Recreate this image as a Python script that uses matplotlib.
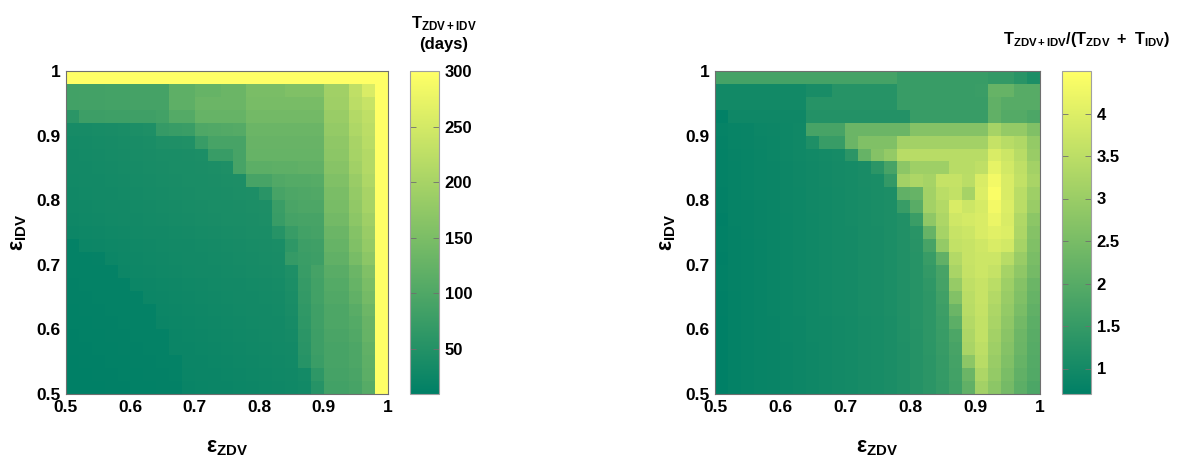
import numpy as np
import matplotlib
matplotlib.use("Agg")
import matplotlib.pyplot as plt
from matplotlib.ticker import FuncFormatter

plt.rcParams["font.family"] = ["Liberation Sans", "DejaVu Sans"]
plt.rcParams["font.weight"] = "bold"
plt.rcParams["mathtext.fontset"] = "custom"
plt.rcParams["mathtext.rm"] = "Liberation Sans:bold"
plt.rcParams["mathtext.it"] = "Liberation Sans:bold"
plt.rcParams["mathtext.bf"] = "Liberation Sans:bold"
plt.rcParams["mathtext.default"] = "regular"

# grid cell edges for drug efficacies (ZDV on x, IDV on y)
eps_edges = [0.50, 0.52, 0.54, 0.56, 0.58, 0.60, 0.62, 0.64, 0.66, 0.68, 0.70,
             0.72, 0.74, 0.76, 0.78, 0.80, 0.82, 0.84, 0.86, 0.88, 0.90, 0.92,
             0.94, 0.96, 0.98, 1.00]
axis_ticks = [0.5, 0.6, 0.7, 0.8, 0.9, 1.0]

# time to resistance under combination therapy (days), rows from eps_IDV=0.98 down to 0.50
t_combo_rows = [
    [300] * 25,
    [85, 86, 86, 87, 87, 88, 88, 88, 117, 117, 126, 126, 131, 131, 149, 149, 149, 155, 155, 155, 193, 193, 227, 256, 300],
    [85, 86, 86, 87, 87, 88, 88, 88, 117, 117, 131, 131, 131, 131, 146, 146, 146, 146, 146, 146, 190, 190, 222, 236, 300],
    [59, 79, 79, 80, 80, 81, 82, 85, 105, 105, 126, 126, 126, 126, 140, 140, 140, 140, 140, 140, 184, 184, 213, 227, 300],
    [36, 36, 37, 38, 39, 42, 44, 70, 73, 76, 100, 102, 104, 106, 131, 131, 131, 131, 131, 131, 178, 178, 207, 222, 300],
    [33, 34, 35, 36, 37, 38, 39, 44, 45, 46, 73, 91, 91, 91, 128, 128, 128, 128, 128, 128, 172, 172, 201, 219, 300],
    [32, 33, 34, 35, 36, 37, 38, 39, 40, 41, 42, 73, 73, 91, 126, 126, 126, 126, 126, 126, 169, 169, 198, 213, 300],
    [31, 32, 33, 34, 35, 36, 37, 38, 39, 40, 41, 42, 44, 91, 114, 114, 117, 117, 120, 120, 163, 163, 193, 213, 300],
    [30, 31, 32, 33, 34, 35, 36, 37, 38, 39, 40, 41, 42, 43, 91, 91, 102, 105, 105, 108, 155, 155, 184, 207, 300],
    [29, 30, 31, 32, 33, 34, 35, 36, 37, 38, 39, 40, 41, 42, 43, 56, 91, 97, 100, 102, 149, 149, 178, 201, 300],
    [28, 29, 30, 31, 32, 33, 34, 35, 36, 37, 38, 39, 40, 41, 42, 43, 76, 94, 97, 97, 146, 146, 175, 198, 300],
    [27, 28, 29, 30, 31, 32, 33, 34, 35, 36, 37, 38, 39, 40, 41, 42, 73, 88, 91, 91, 140, 140, 169, 190, 300],
    [25, 26, 27, 28, 29, 30, 31, 32, 33, 34, 35, 36, 37, 38, 39, 40, 53, 73, 85, 88, 131, 131, 160, 184, 300],
    [15, 24, 25, 26, 27, 28, 29, 30, 31, 32, 33, 34, 35, 36, 37, 38, 39, 62, 79, 82, 126, 126, 155, 178, 300],
    [15, 15, 16, 24, 26, 27, 28, 29, 30, 31, 32, 33, 34, 35, 36, 37, 38, 70, 76, 79, 120, 120, 146, 169, 300],
    [14, 14, 15, 15, 25, 26, 27, 28, 29, 30, 31, 32, 33, 34, 35, 36, 37, 44, 73, 88, 111, 111, 131, 155, 300],
    [13, 14, 14, 15, 15, 24, 25, 26, 27, 28, 29, 30, 31, 32, 33, 34, 35, 42, 70, 85, 105, 105, 126, 149, 300],
    [13, 13, 14, 14, 15, 15, 24, 25, 26, 27, 28, 29, 30, 31, 32, 33, 34, 40, 68, 85, 102, 102, 120, 143, 300],
    [12, 13, 13, 14, 14, 15, 15, 24, 25, 26, 27, 28, 29, 30, 31, 32, 33, 38, 65, 82, 97, 97, 111, 134, 300],
    [12, 12, 13, 13, 14, 14, 15, 23, 24, 25, 26, 27, 28, 29, 30, 31, 32, 36, 62, 82, 97, 97, 105, 128, 300],
    [11, 12, 12, 13, 13, 14, 14, 15, 23, 24, 25, 26, 27, 28, 29, 30, 31, 34, 59, 79, 94, 94, 102, 126, 300],
    [11, 11, 12, 12, 13, 13, 14, 14, 22, 23, 24, 25, 26, 27, 28, 29, 30, 32, 56, 79, 91, 91, 97, 120, 300],
    [10, 11, 11, 12, 12, 13, 13, 14, 14, 22, 23, 24, 25, 26, 27, 28, 29, 30, 53, 76, 91, 91, 97, 117, 300],
    [10, 10, 11, 11, 12, 12, 13, 13, 14, 21, 22, 23, 24, 25, 26, 27, 28, 29, 33, 62, 88, 88, 94, 114, 300],
    [9, 10, 10, 11, 11, 12, 12, 13, 13, 20, 21, 22, 23, 24, 25, 26, 27, 28, 30, 53, 85, 85, 91, 108, 300],
]

# ratio T_combo / (T_ZDV + T_IDV), same row order
ratio_rows = [
    [1.73, 1.73, 1.73, 1.73, 1.73, 1.73, 1.73, 1.73, 1.73, 1.73, 1.73, 1.73, 1.73, 1.73, 1.54, 1.54, 1.54, 1.54, 1.54, 1.54, 1.54, 1.46, 1.46, 1.31, 1.12],
    [0.97, 0.97, 0.97, 0.97, 0.97, 0.97, 0.97, 1.08, 1.08, 1.27, 1.27, 1.27, 1.27, 1.27, 1.54, 1.54, 1.54, 1.54, 1.54, 1.54, 1.57, 2.22, 2.22, 2.00, 2.00],
    [0.97, 0.97, 0.97, 0.97, 0.97, 0.97, 0.97, 1.27, 1.27, 1.27, 1.27, 1.27, 1.27, 1.27, 1.54, 1.54, 1.54, 1.54, 1.54, 1.54, 1.54, 2.14, 2.00, 2.00, 2.00],
    [0.74, 0.93, 0.93, 0.93, 0.93, 0.93, 0.93, 1.23, 1.23, 1.23, 1.23, 1.23, 1.23, 1.23, 1.23, 1.54, 1.54, 1.54, 1.54, 1.54, 1.54, 2.14, 1.95, 1.95, 1.84],
    [0.80, 0.82, 0.84, 0.88, 0.90, 0.92, 0.95, 1.76, 1.76, 1.76, 2.30, 2.30, 2.30, 2.30, 2.30, 2.68, 2.68, 2.68, 2.68, 2.68, 2.68, 3.17, 2.90, 2.90, 2.60],
    [0.78, 0.82, 0.84, 0.87, 0.89, 0.92, 0.95, 1.16, 1.54, 1.54, 2.30, 2.60, 2.60, 2.60, 3.13, 3.13, 3.13, 3.13, 3.13, 3.13, 3.13, 3.63, 3.44, 3.32, 2.90],
    [0.77, 0.81, 0.83, 0.86, 0.88, 0.91, 0.94, 0.97, 1.00, 1.03, 1.35, 2.22, 2.68, 2.90, 3.44, 3.44, 3.44, 3.44, 3.44, 3.44, 3.44, 3.93, 3.74, 3.44, 2.98],
    [0.76, 0.80, 0.82, 0.85, 0.87, 0.90, 0.93, 0.96, 0.99, 1.02, 1.04, 1.08, 1.35, 1.76, 2.79, 3.06, 3.06, 3.06, 3.44, 3.44, 3.55, 4.12, 3.82, 3.55, 3.13],
    [0.76, 0.80, 0.82, 0.85, 0.87, 0.90, 0.93, 0.96, 0.99, 1.02, 1.04, 1.08, 1.10, 1.46, 3.13, 3.28, 3.17, 3.63, 3.63, 3.47, 3.93, 4.31, 3.93, 3.59, 3.21],
    [0.75, 0.79, 0.82, 0.85, 0.87, 0.90, 0.92, 0.96, 0.98, 1.01, 1.03, 1.07, 1.09, 1.13, 2.14, 2.22, 3.13, 3.47, 3.59, 3.17, 3.97, 4.42, 3.93, 3.47, 3.06],
    [0.75, 0.79, 0.81, 0.84, 0.86, 0.90, 0.92, 0.96, 0.98, 1.01, 1.03, 1.07, 1.09, 1.13, 1.54, 2.03, 3.13, 3.36, 3.93, 3.74, 3.89, 4.31, 3.97, 3.47, 2.98],
    [0.72, 0.79, 0.81, 0.84, 0.86, 0.89, 0.92, 0.95, 0.98, 1.01, 1.03, 1.07, 1.09, 1.13, 1.20, 1.57, 2.83, 3.28, 3.78, 3.85, 3.93, 4.20, 3.93, 3.32, 2.79],
    [0.74, 0.78, 0.81, 0.84, 0.86, 0.89, 0.91, 0.95, 0.97, 1.00, 1.02, 1.06, 1.08, 1.12, 1.19, 1.31, 2.22, 3.17, 3.66, 3.74, 3.93, 4.04, 3.97, 3.28, 2.68],
    [0.74, 0.78, 0.80, 0.83, 0.85, 0.89, 0.91, 0.95, 0.97, 1.00, 1.02, 1.06, 1.08, 1.12, 1.19, 1.30, 1.76, 2.90, 3.59, 3.66, 3.78, 3.93, 3.82, 3.17, 2.60],
    [0.72, 0.78, 0.80, 0.83, 0.85, 0.89, 0.91, 0.95, 0.97, 1.00, 1.02, 1.06, 1.08, 1.12, 1.19, 1.27, 1.54, 2.14, 3.36, 3.66, 3.74, 3.74, 3.44, 2.98, 2.52],
    [0.73, 0.78, 0.80, 0.83, 0.85, 0.89, 0.91, 0.95, 0.97, 1.00, 1.02, 1.06, 1.08, 1.12, 1.19, 1.27, 1.46, 1.76, 3.21, 3.63, 3.74, 3.63, 3.17, 2.83, 2.45],
    [0.73, 0.78, 0.80, 0.83, 0.85, 0.89, 0.91, 0.95, 0.97, 1.00, 1.02, 1.06, 1.08, 1.12, 1.19, 1.27, 1.40, 1.73, 2.94, 3.55, 3.66, 3.47, 3.06, 2.68, 2.30],
    [0.72, 0.77, 0.80, 0.83, 0.85, 0.88, 0.91, 0.94, 0.97, 1.00, 1.02, 1.06, 1.08, 1.12, 1.19, 1.27, 1.38, 1.65, 2.64, 3.47, 3.66, 3.36, 2.98, 2.60, 2.22],
    [0.72, 0.77, 0.80, 0.83, 0.85, 0.88, 0.91, 0.94, 0.97, 1.00, 1.02, 1.06, 1.08, 1.12, 1.19, 1.27, 1.38, 1.61, 2.30, 3.44, 3.63, 3.28, 2.90, 2.52, 2.14],
    [0.71, 0.77, 0.79, 0.82, 0.84, 0.88, 0.90, 0.94, 0.96, 0.99, 1.01, 1.05, 1.07, 1.11, 1.18, 1.27, 1.38, 1.57, 2.07, 3.36, 3.59, 3.21, 2.83, 2.41, 2.07],
    [0.71, 0.77, 0.79, 0.82, 0.84, 0.88, 0.90, 0.94, 0.96, 0.99, 1.01, 1.05, 1.07, 1.11, 1.18, 1.26, 1.37, 1.54, 1.84, 3.28, 3.59, 3.13, 2.75, 2.33, 2.03],
    [0.71, 0.76, 0.79, 0.82, 0.84, 0.87, 0.90, 0.93, 0.96, 0.99, 1.01, 1.05, 1.07, 1.11, 1.17, 1.26, 1.36, 1.52, 1.76, 3.21, 3.51, 3.06, 2.68, 2.30, 1.99],
    [0.70, 0.76, 0.79, 0.82, 0.84, 0.87, 0.90, 0.93, 0.96, 0.99, 1.01, 1.05, 1.07, 1.11, 1.17, 1.25, 1.35, 1.50, 1.72, 2.79, 3.44, 2.98, 2.60, 2.22, 1.95],
    [0.70, 0.76, 0.79, 0.82, 0.84, 0.87, 0.90, 0.93, 0.96, 0.99, 1.01, 1.05, 1.07, 1.11, 1.17, 1.25, 1.35, 1.48, 1.68, 2.30, 3.28, 2.90, 2.52, 2.14, 1.92],
    [0.70, 0.76, 0.79, 0.82, 0.84, 0.87, 0.90, 0.93, 0.96, 0.99, 1.01, 1.05, 1.07, 1.11, 1.17, 1.25, 1.35, 1.46, 1.65, 2.14, 3.13, 2.79, 2.45, 2.07, 1.84],
]

t_combo = np.array(t_combo_rows[::-1], dtype=float)
ratio = np.array(ratio_rows[::-1], dtype=float)

W, H = 1188, 462
fig = plt.figure(figsize=(W / 100, H / 100), dpi=100)


def fx(px):
    return px / W


def fy(py):
    return 1 - py / H


bottom = fy(394)
height = (394 - 71) / H
frame_col = "#6f6f6f"

panels = [
    dict(data=t_combo, left=66, width=322, cb_left=410, vmin=9.4, vmax=300,
         cticks=[50, 100, 150, 200, 250, 300]),
    dict(data=ratio, left=715, width=325, cb_left=1062, vmin=0.70, vmax=4.5,
         cticks=[1, 1.5, 2, 2.5, 3, 3.5, 4]),
]

for p in panels:
    ax = fig.add_axes([fx(p["left"]), bottom, fx(p["width"]), height])
    mesh = ax.pcolormesh(eps_edges, eps_edges, p["data"], cmap="summer",
                         vmin=p["vmin"], vmax=p["vmax"], shading="flat")
    ax.set_xlim(0.5, 1.0)
    ax.set_ylim(0.5, 1.0)
    ax.set_xticks(axis_ticks)
    ax.set_yticks(axis_ticks)
    fmt = FuncFormatter(lambda v, pos: "%g" % round(v, 2))
    ax.xaxis.set_major_formatter(fmt)
    ax.yaxis.set_major_formatter(fmt)
    ax.tick_params(length=0, labelsize=12.5, pad=4)
    for s in ax.spines.values():
        s.set_color(frame_col)
        s.set_linewidth(0.8)

    cax = fig.add_axes([fx(p["cb_left"]), bottom, fx(29), height])
    cb = fig.colorbar(mesh, cax=cax)
    cb.set_ticks(p["cticks"])
    cb.ax.yaxis.set_major_formatter(FuncFormatter(lambda v, pos: "%g" % v))
    cb.ax.tick_params(direction="in", left=True, right=True, length=4,
                      width=0.6, color=frame_col, labelsize=12, pad=4)
    cb.outline.set_edgecolor("#a0a0a0")
    cb.outline.set_linewidth(0.8)

    cx = p["left"] + p["width"] / 2
    fig.text(fx(cx), fy(458), r"$\varepsilon_{ZDV}$", fontsize=15.5,
             ha="center", va="bottom")
    fig.text(fx(p["left"] - 58), fy(232.5), r"$\varepsilon_{IDV}$", fontsize=15.5,
             rotation=90, ha="left", va="center")

# colorbar titles
fig.text(fx(444), fy(28), "$T_{ZDV+IDV}$", fontsize=12, ha="center", va="baseline")
fig.text(fx(444), fy(49), "(days)", fontsize=12, ha="center", va="baseline")
fig.text(fx(1087), fy(49), r"$T_{ZDV+IDV}/(T_{ZDV}\ +\ T_{IDV})$", fontsize=11.7,
         ha="center", va="bottom")

fig.savefig("out.png", dpi=100)
